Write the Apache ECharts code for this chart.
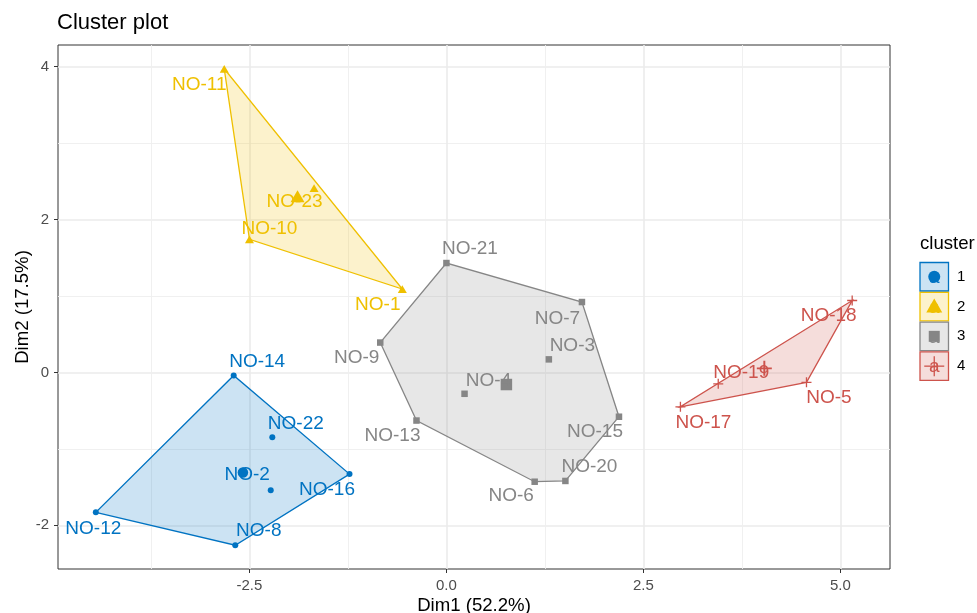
<!DOCTYPE html>
<html>
<head>
<meta charset="utf-8">
<title>Cluster plot</title>
<script src="https://cdn.jsdelivr.net/npm/echarts@6/dist/echarts.min.js"></script>
<style>
  html, body { margin: 0; padding: 0; background: #ffffff; }
  #chart { width: 977px; height: 613px; }
</style>
</head>
<body>
<div id="chart"></div>
<script>
// Observations projected on the first two principal dimensions, grouped by cluster
const clusterIds = ['1', '2', '3', '4'];

const cluster1Names = ['NO-14', 'NO-22', 'NO-2', 'NO-16', 'NO-12', 'NO-8'];
const cluster1Dim1  = [-2.70, -2.21, -2.23, -1.23, -4.45, -2.68];
const cluster1Dim2  = [-0.04, -0.85, -1.54, -1.33, -1.83, -2.26];

const cluster2Names = ['NO-11', 'NO-23', 'NO-10', 'NO-1'];
const cluster2Dim1  = [-2.82, -1.68, -2.50, -0.56];
const cluster2Dim2  = [3.97, 2.41, 1.74, 1.09];

const cluster3Names = ['NO-21', 'NO-7', 'NO-3', 'NO-9', 'NO-4', 'NO-13', 'NO-15', 'NO-20', 'NO-6'];
const cluster3Dim1  = [0.00, 1.72, 1.30, -0.84, 0.23, -0.38, 2.19, 1.51, 1.12];
const cluster3Dim2  = [1.43, 0.92, 0.17, 0.39, -0.28, -0.63, -0.58, -1.42, -1.43];

const cluster4Names = ['NO-18', 'NO-19', 'NO-5', 'NO-17'];
const cluster4Dim1  = [5.15, 3.45, 4.57, 2.97];
const cluster4Dim2  = [0.94, -0.15, -0.13, -0.45];

const xTickValues = [-2.5, 0, 2.5, 5];
const xMinorValues = [-3.75, -1.25, 1.25, 3.75];
const yTickValues = [-2, 0, 2, 4];
const yMinorValues = [-1, 1, 3];

const xAxisTitle = 'Dim1 (52.2%)';
const yAxisTitle = 'Dim2 (17.5%)';
const chartTitle = 'Cluster plot';
const legendTitle = 'cluster';

// ---- styling ----
const FONT = '"Liberation Sans", Arial, Helvetica, sans-serif';
const palette = ['#0073C2', '#EFC000', '#868686', '#CD534C'];
const fillAlpha = 0.2;

// label displacement (px) from each point, keeps text clear of the marks
const labelShift = {
  'NO-14': [23.5, -14], 'NO-22': [23.5, -14], 'NO-2': [-23.5, -15], 'NO-16': [-22.5, 15.5],
  'NO-12': [-2.5, 16.5], 'NO-8': [23.5, -14.5],
  'NO-11': [-25, 16], 'NO-23': [-19.5, 14], 'NO-10': [20, -11], 'NO-1': [-24.5, 16],
  'NO-21': [23.5, -14], 'NO-7': [-24.5, 16.5], 'NO-3': [23.5, -14], 'NO-9': [-23.5, 15.5],
  'NO-4': [24, -13.5], 'NO-13': [-24, 15.5], 'NO-15': [-24, 15], 'NO-20': [24, -14],
  'NO-6': [-23.5, 14.5],
  'NO-18': [-23.5, 15], 'NO-19': [23, -11], 'NO-5': [22.5, 15], 'NO-17': [23, 15.5]
};

const crossPath = 'path://M0,4.35H10V5.65H0Z M4.35,0H5.65V10H4.35Z';
const markerSymbols = ['circle', 'triangle', 'rect', crossPath];
const pointSizes = [6, [9, 7.8], 6.5, 10];
const centerSizes = [10.5, [14, 12.1], 11.5, 15];

const clusters = [
  { names: cluster1Names, d1: cluster1Dim1, d2: cluster1Dim2 },
  { names: cluster2Names, d1: cluster2Dim1, d2: cluster2Dim2 },
  { names: cluster3Names, d1: cluster3Dim1, d2: cluster3Dim2 },
  { names: cluster4Names, d1: cluster4Dim1, d2: cluster4Dim2 }
];

function rgba(hex, a) {
  const n = parseInt(hex.slice(1), 16);
  return 'rgba(' + (n >> 16 & 255) + ',' + (n >> 8 & 255) + ',' + (n & 255) + ',' + a + ')';
}

// convex hull (monotone chain) of a cluster's points
function convexHull(pts) {
  const p = pts.slice().sort((a, b) => a[0] - b[0] || a[1] - b[1]);
  const cross = (o, a, b) => (a[0] - o[0]) * (b[1] - o[1]) - (a[1] - o[1]) * (b[0] - o[0]);
  const lower = [];
  for (const q of p) {
    while (lower.length >= 2 && cross(lower[lower.length - 2], lower[lower.length - 1], q) <= 0) lower.pop();
    lower.push(q);
  }
  const upper = [];
  for (let i = p.length - 1; i >= 0; i--) {
    const q = p[i];
    while (upper.length >= 2 && cross(upper[upper.length - 2], upper[upper.length - 1], q) <= 0) upper.pop();
    upper.push(q);
  }
  upper.pop(); lower.pop();
  return lower.concat(upper);
}

// axis limits: data range widened by 5% on each side
const allX = [].concat(...clusters.map(c => c.d1));
const allY = [].concat(...clusters.map(c => c.d2));
const xPad = (Math.max(...allX) - Math.min(...allX)) * 0.05;
const yPad = (Math.max(...allY) - Math.min(...allY)) * 0.05;
const xMin = Math.min(...allX) - xPad, xMax = Math.max(...allX) + xPad;
const yMin = Math.min(...allY) - yPad, yMax = Math.max(...allY) + yPad;

const series = [];

clusters.forEach((c, k) => {
  const pts = c.d1.map((x, i) => [x, c.d2[i]]);
  const hull = convexHull(pts);
  const color = palette[k];

  // hull polygon
  series.push({
    type: 'custom',
    coordinateSystem: 'cartesian2d',
    xAxisIndex: 0, yAxisIndex: 0,
    silent: true,
    z: 2,
    data: hull,
    encode: { x: 0, y: 1 },
    renderItem: function (params, api) {
      if (params.dataIndex !== 0) return;
      return {
        type: 'polygon',
        shape: { points: hull.map(p => api.coord(p)) },
        style: { fill: rgba(color, fillAlpha), stroke: color, lineWidth: 1.3 }
      };
    }
  });

  // observations, each name shifted off its mark
  series.push({
    type: 'scatter',
    xAxisIndex: 0, yAxisIndex: 0,
    silent: true,
    z: 4,
    symbol: markerSymbols[k],
    symbolSize: pointSizes[k],
    itemStyle: { color: color, opacity: 1 },
    label: {
      show: true,
      position: 'inside',
      formatter: '{b}',
      color: color,
      fontSize: 19,
      fontFamily: FONT
    },
    labelLayout: function (params) {
      const s = labelShift[c.names[params.dataIndex]] || [0, -14];
      return { dx: s[0], dy: s[1], hideOverlap: false };
    },
    data: c.names.map((n, i) => ({ name: n, value: [c.d1[i], c.d2[i]] }))
  });

  // cluster centre (mean of its members)
  const mx = c.d1.reduce((s, v) => s + v, 0) / c.d1.length;
  const my = c.d2.reduce((s, v) => s + v, 0) / c.d2.length;
  series.push({
    type: 'scatter',
    xAxisIndex: 0, yAxisIndex: 0,
    silent: true,
    z: 3,
    symbol: markerSymbols[k],
    symbolSize: centerSizes[k],
    itemStyle: { color: color, opacity: 1 },
    data: [[mx, my]]
  });
});

// legend drawn as keyed boxes to the right of the panel
const legendElems = [];
const keyX = 920, keyTop = 262.5, keySize = 28.5, keyStep = 29.8;
legendElems.push({
  type: 'text', x: keyX, y: 244,
  style: { text: legendTitle, fill: '#000', font: '18.6px ' + FONT,
           textAlign: 'left', textVerticalAlign: 'middle', align: 'left', verticalAlign: 'middle' }
});
clusterIds.forEach((id, k) => {
  const color = palette[k];
  const y0 = keyTop + k * keyStep;
  const cx = keyX + keySize / 2, cy = y0 + keySize / 2;
  legendElems.push({
    type: 'rect', shape: { x: keyX, y: y0, width: keySize, height: keySize },
    style: { fill: rgba(color, fillAlpha), stroke: color, lineWidth: 1.3 }
  });
  legendElems.push({
    type: 'text', x: cx, y: cy + 1,
    style: { text: 'a', fill: color, font: '19px ' + FONT,
             textAlign: 'center', textVerticalAlign: 'middle', align: 'center', verticalAlign: 'middle' }
  });
  if (k === 0) {
    legendElems.push({ type: 'circle', shape: { cx: cx, cy: cy, r: 6 }, style: { fill: color } });
  } else if (k === 1) {
    legendElems.push({ type: 'polygon', shape: { points: [[cx, cy - 8], [cx + 8, cy + 6], [cx - 8, cy + 6]] }, style: { fill: color } });
  } else if (k === 2) {
    legendElems.push({ type: 'rect', shape: { x: cx - 5.5, y: cy - 5.5, width: 11, height: 11 }, style: { fill: color } });
  } else {
    legendElems.push({ type: 'rect', shape: { x: cx - 10, y: cy - 0.65, width: 20, height: 1.3 }, style: { fill: color } });
    legendElems.push({ type: 'rect', shape: { x: cx - 0.65, y: cy - 10, width: 1.3, height: 20 }, style: { fill: color } });
  }
  legendElems.push({
    type: 'text', x: 957, y: cy,
    style: { text: id, fill: '#000', font: '15px ' + FONT,
             textAlign: 'left', textVerticalAlign: 'middle', align: 'left', verticalAlign: 'middle' }
  });
});

const tickLabelStyle = { color: '#4D4D4D', fontSize: 15, fontFamily: FONT };
const axisTitleStyle = { color: '#000', fontSize: 18.6, fontFamily: FONT };

const option = {
  animation: false,
  backgroundColor: '#ffffff',
  title: {
    text: chartTitle,
    left: 57, top: 12, padding: 0,
    textStyle: { color: '#000', fontSize: 22, fontWeight: 'normal', fontFamily: FONT }
  },
  grid: {
    left: 58, top: 45, width: 832, height: 524,
    outerBoundsMode: 'none', containLabel: false,
    show: true, borderColor: '#333333', borderWidth: 1, backgroundColor: 'transparent'
  },
  xAxis: [
    {
      type: 'value', min: xMin, max: xMax, position: 'bottom',
      axisLine: { show: false, onZero: false },
      axisTick: { show: true, length: 4, customValues: xTickValues, lineStyle: { color: '#333333', width: 1 } },
      axisLabel: { customValues: xTickValues, margin: 9, formatter: v => v.toFixed(1), ...tickLabelStyle },
      splitLine: { show: true, lineStyle: { color: '#EBEBEB', width: 1.6 } },
      name: xAxisTitle, nameLocation: 'middle', nameGap: 27, nameMoveOverlap: false,
      nameTextStyle: axisTitleStyle
    },
    {
      type: 'value', min: xMin, max: xMax, position: 'bottom',
      axisLine: { show: false, onZero: false },
      axisTick: { show: false, customValues: xMinorValues },
      axisLabel: { show: false },
      splitLine: { show: true, lineStyle: { color: '#EEEEEE', width: 0.9 } }
    }
  ],
  yAxis: [
    {
      type: 'value', min: yMin, max: yMax, position: 'left',
      axisLine: { show: false, onZero: false },
      axisTick: { show: true, length: 4, customValues: yTickValues, lineStyle: { color: '#333333', width: 1 } },
      axisLabel: { customValues: yTickValues, margin: 9, formatter: v => String(v), ...tickLabelStyle },
      splitLine: { show: true, lineStyle: { color: '#EBEBEB', width: 1.6 } },
      name: yAxisTitle, nameLocation: 'middle', nameGap: 26, nameMoveOverlap: false,
      nameTextStyle: axisTitleStyle
    },
    {
      type: 'value', min: yMin, max: yMax, position: 'left',
      axisLine: { show: false, onZero: false },
      axisTick: { show: false, customValues: yMinorValues },
      axisLabel: { show: false },
      splitLine: { show: true, lineStyle: { color: '#EEEEEE', width: 0.9 } }
    }
  ],
  graphic: { elements: legendElems },
  series: series
};

const chart = echarts.init(document.getElementById('chart'), null, { renderer: 'canvas' });
chart.setOption(option);
</script>
</body>
</html>
